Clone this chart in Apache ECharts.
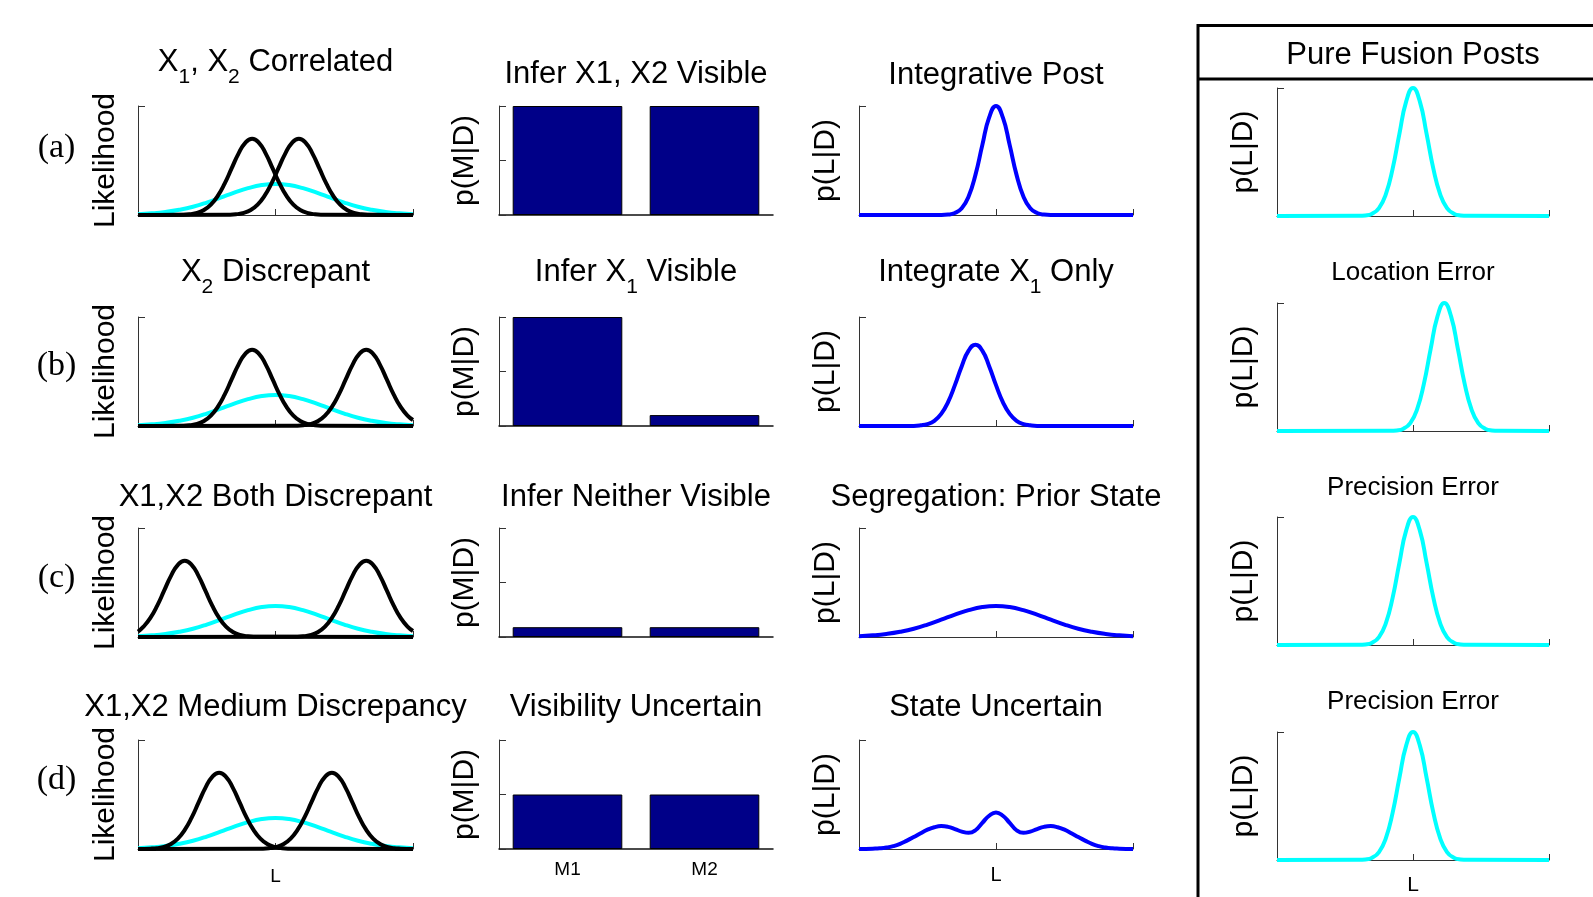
<!DOCTYPE html>
<html><head><meta charset="utf-8">
<script src="https://cdn.jsdelivr.net/npm/echarts@6/dist/echarts.min.js"></script>
<style>html,body{margin:0;padding:0;background:#fff}#chart{width:1593px;height:897px}</style>
</head><body><div id="chart"></div>
<script>
// ================= DATA =================
// Column 1: likelihoods (black) and prior (cyan), x in [-1,1], y in [0,1]
const likelihoodPrior = [[-1,0.007],[-0.9,0.015],[-0.8,0.028],[-0.7,0.048],[-0.6,0.076],[-0.5,0.114],[-0.4,0.159],[-0.3,0.205],[-0.2,0.246],[-0.1,0.275],[0,0.285],[0.1,0.275],[0.2,0.246],[0.3,0.205],[0.4,0.159],[0.5,0.114],[0.6,0.076],[0.7,0.048],[0.8,0.028],[0.9,0.015],[1,0.007]];
const likX1Near = [[-1,0],[-0.67,0.003],[-0.62,0.008],[-0.57,0.02],[-0.52,0.046],[-0.47,0.095],[-0.42,0.175],[-0.37,0.288],[-0.32,0.425],[-0.27,0.561],[-0.22,0.662],[-0.17,0.7],[-0.12,0.662],[-0.07,0.561],[-0.02,0.425],[0.03,0.288],[0.08,0.175],[0.13,0.095],[0.18,0.046],[0.23,0.02],[0.28,0.008],[0.33,0.003],[1,0]];
const likX2Near = [[-1,0],[-0.33,0.003],[-0.28,0.008],[-0.23,0.02],[-0.18,0.046],[-0.13,0.095],[-0.08,0.175],[-0.03,0.288],[0.02,0.425],[0.07,0.561],[0.12,0.662],[0.17,0.7],[0.22,0.662],[0.27,0.561],[0.32,0.425],[0.37,0.288],[0.42,0.175],[0.47,0.095],[0.52,0.046],[0.57,0.02],[0.62,0.008],[0.67,0.003],[1,0]];
const likX2Far = [[-1,0],[0.16,0.003],[0.21,0.008],[0.26,0.02],[0.31,0.046],[0.36,0.095],[0.41,0.175],[0.46,0.288],[0.51,0.425],[0.56,0.561],[0.61,0.662],[0.66,0.7],[0.71,0.662],[0.76,0.561],[0.81,0.425],[0.86,0.288],[0.91,0.175],[0.96,0.095],[1,0.055]];
const likX1Far = [[-1,0.05],[-0.96,0.095],[-0.91,0.175],[-0.86,0.288],[-0.81,0.425],[-0.76,0.561],[-0.71,0.662],[-0.66,0.7],[-0.61,0.662],[-0.56,0.561],[-0.51,0.425],[-0.46,0.288],[-0.41,0.175],[-0.36,0.095],[-0.31,0.046],[-0.26,0.02],[-0.21,0.008],[-0.16,0.003],[1,0]];
const likX1Mid = [[-1,0],[-0.91,0.003],[-0.86,0.008],[-0.81,0.02],[-0.76,0.046],[-0.71,0.095],[-0.66,0.175],[-0.61,0.288],[-0.56,0.425],[-0.51,0.561],[-0.46,0.662],[-0.41,0.7],[-0.36,0.662],[-0.31,0.561],[-0.26,0.425],[-0.21,0.288],[-0.16,0.175],[-0.11,0.095],[-0.06,0.046],[-0.01,0.02],[0.04,0.008],[0.09,0.003],[1,0]];
const likX2Mid = [[-1,0],[-0.09,0.003],[-0.04,0.008],[0.01,0.02],[0.06,0.046],[0.11,0.095],[0.16,0.175],[0.21,0.288],[0.26,0.425],[0.31,0.561],[0.36,0.662],[0.41,0.7],[0.46,0.662],[0.51,0.561],[0.56,0.425],[0.61,0.288],[0.66,0.175],[0.71,0.095],[0.76,0.046],[0.81,0.02],[0.86,0.008],[0.91,0.003],[1,0]];
const likelihoodX1Rows = [likX1Near, likX1Near, likX1Far, likX1Mid];
const likelihoodX2Rows = [likX2Near, likX2Far, likX2Far, likX2Mid];

// Column 2: visibility posteriors p(M|D)
const visibilityCats = ['M1', 'M2'];
const visibilityRows = [[1, 1], [1, 0.1], [0.09, 0.09], [0.5, 0.5]];

// Column 3: location posteriors p(L|D) (blue)
const postIntegrative = [[-1,0],[-0.4,0.001],[-0.35,0.004],[-0.3,0.018],[-0.25,0.062],[-0.2,0.169],[-0.15,0.368],[-0.1,0.641],[-0.05,0.895],[0,1],[0.05,0.895],[0.1,0.641],[0.15,0.368],[0.2,0.169],[0.25,0.062],[0.3,0.018],[0.35,0.004],[0.4,0.001],[1,0]];
const postX1Only = [[-1,0],[-0.6,0.001],[-0.55,0.006],[-0.5,0.018],[-0.45,0.048],[-0.4,0.111],[-0.35,0.22],[-0.3,0.375],[-0.25,0.549],[-0.2,0.691],[-0.15,0.745],[-0.1,0.691],[-0.05,0.549],[0,0.375],[0.05,0.22],[0.1,0.111],[0.15,0.048],[0.2,0.018],[0.25,0.006],[0.3,0.001],[1,0]];
const postPrior = likelihoodPrior;
const postStateUncertain = [[-1,0],[-0.95,0.001],[-0.9,0.003],[-0.85,0.006],[-0.8,0.013],[-0.75,0.026],[-0.7,0.047],[-0.65,0.077],[-0.6,0.11],[-0.55,0.145],[-0.5,0.177],[-0.45,0.2],[-0.4,0.21],[-0.35,0.203],[-0.3,0.183],[-0.25,0.16],[-0.2,0.148],[-0.15,0.172],[-0.1,0.24],[-0.05,0.305],[0,0.336],[0.05,0.305],[0.1,0.24],[0.15,0.172],[0.2,0.148],[0.25,0.16],[0.3,0.183],[0.35,0.203],[0.4,0.21],[0.45,0.2],[0.5,0.177],[0.55,0.145],[0.6,0.11],[0.65,0.077],[0.7,0.047],[0.75,0.026],[0.8,0.013],[0.85,0.006],[0.9,0.003],[0.95,0.001],[1,0]];
const posteriorRows = [postIntegrative, postX1Only, postPrior, postStateUncertain];

// Column 4: pure fusion posteriors (cyan)
const fusionCentered = postIntegrative;
const fusionShifted = [[-1,0],[-0.17,0.001],[-0.12,0.004],[-0.07,0.018],[-0.02,0.062],[0.03,0.169],[0.08,0.368],[0.13,0.641],[0.18,0.895],[0.23,1],[0.28,0.895],[0.33,0.641],[0.38,0.368],[0.43,0.169],[0.48,0.062],[0.53,0.018],[0.58,0.004],[0.63,0.001],[1,0]];
const fusionRows = [fusionCentered, fusionShifted, fusionCentered, fusionCentered];

// Text
const rowLetters = ['(a)', '(b)', '(c)', '(d)'];
const titlesCol1 = ['X_1, X_2 Correlated', 'X_2 Discrepant', 'X1,X2 Both Discrepant', 'X1,X2 Medium Discrepancy'];
const titlesCol2 = ['Infer X1, X2 Visible', 'Infer X_1 Visible', 'Infer Neither Visible', 'Visibility Uncertain'];
const titlesCol3 = ['Integrative Post', 'Integrate X_1 Only', 'Segregation: Prior State', 'State Uncertain'];
const titlesCol4 = ['', 'Location Error', 'Precision Error', 'Precision Error'];
const boxHeader = 'Pure Fusion Posts';
const yNames = ['Likelihood', 'p(M|D)', 'p(L|D)', 'p(L|D)'];
const xCenterLabel = 'L';

// ================= LAYOUT / STYLE =================
const FONT = "'Liberation Sans', Arial, Helvetica, sans-serif";
const SERIF = "'Liberation Serif', 'Times New Roman', serif";
const AX = '#333';
const CYAN = '#00FFFF', BLUE = '#0000FF', BLACK = '#000000', NAVY = '#000088';
const colLeft = [138, 499, 859, 1277];
const colWidth = [275, 274, 274, 272];
const rowTop = [106, 317, 528, 740];
const rowHeight = 109;
const rightTop = [88, 303, 517, 732];
const rightHeight = 128;
const titleCenterY = [[62.5, 74.5, 75], [272.5, 272.5, 272.5], [497, 497, 497], [707.5, 707.5, 707.5]];
const rightTitleCenterY = [0, 273, 488, 701.7];
const letterY = [148, 366, 578, 780];
const nameGaps = [17, 19, 18, 18];

const grids = [], xAxes = [], yAxes = [], series = [], titles = [];
function addGrid(left, top, width, height) {
  grids.push({left, top, width, height, containLabel: false, outerBoundsMode: 'none', show: false});
  return grids.length - 1;
}
function curveXAxis(g, showLabel, fontSize, margin) {
  return {type: 'value', gridIndex: g, min: -1, max: 1, interval: 1,
    axisLine: {show: true, onZero: false, lineStyle: {color: AX, width: 1}},
    axisTick: {show: true, inside: true, length: 6, lineStyle: {color: AX, width: 1}},
    axisLabel: {show: showLabel, formatter: v => (v === 0 ? xCenterLabel : ''), fontSize, margin, color: '#000', fontFamily: FONT, showMinLabel: true, showMaxLabel: true},
    splitLine: {show: false}};
}
function valueYAxis(g, interval, name, gap) {
  return {type: 'value', gridIndex: g, min: 0, max: 1, interval,
    axisLine: {show: true, onZero: false, lineStyle: {color: AX, width: 1}},
    axisTick: {show: true, inside: true, length: 7, lineStyle: {color: AX, width: 1}},
    axisLabel: {show: false}, splitLine: {show: false},
    name, nameLocation: 'middle', nameRotate: 90, nameGap: gap,
    nameTextStyle: {fontSize: 30, color: '#000', fontFamily: FONT}};
}
function lineSeries(g, data, color, z) {
  return {type: 'line', xAxisIndex: g, yAxisIndex: g, data, smooth: true, symbol: 'none', clip: false, z,
    lineStyle: {color, width: 4}, emphasis: {disabled: true}};
}
function richTitle(t) { return '{n|' + t.replace(/_(\d)/g, '}{s|$1}{n|') + '}'; }
function addTitle(text, cx, centerY, size) {
  const sub = Math.round(size * 0.68);
  titles.push({text: richTitle(text), left: cx, top: centerY - size / 2, textAlign: 'center', textVerticalAlign: 'top', padding: 0,
    textStyle: {fontSize: size, fontWeight: 'normal', color: '#000', fontFamily: FONT,
      rich: {n: {fontSize: size, lineHeight: size, fontFamily: FONT, color: '#000', verticalAlign: 'top'},
             s: {fontSize: sub, fontFamily: FONT, color: '#000', verticalAlign: 'top', padding: [Math.round(size * 0.66), 0, 0, 0]}}}});
}

for (let r = 0; r < 4; r++) {
  // Column 1: likelihoods
  let g = addGrid(colLeft[0], rowTop[r], colWidth[0], rowHeight);
  xAxes.push(curveXAxis(g, r === 3, 19, 18));
  yAxes.push(valueYAxis(g, 1, yNames[0], nameGaps[0]));
  series.push(lineSeries(g, likelihoodPrior, CYAN, 2));
  series.push(lineSeries(g, likelihoodX1Rows[r], BLACK, 3));
  series.push(lineSeries(g, likelihoodX2Rows[r], BLACK, 3));
  addTitle(titlesCol1[r], colLeft[0] + colWidth[0] / 2, titleCenterY[r][0], 31);

  // Column 2: bars
  g = addGrid(colLeft[1], rowTop[r], colWidth[1], rowHeight);
  xAxes.push({type: 'category', gridIndex: g, data: visibilityCats, boundaryGap: true,
    axisLine: {show: true, onZero: false, lineStyle: {color: '#111', width: 1.5}},
    axisTick: {show: false},
    axisLabel: {show: r === 3, fontSize: 19, margin: 11, color: '#000', fontFamily: FONT}});
  yAxes.push(valueYAxis(g, 0.5, yNames[1], nameGaps[1]));
  series.push({type: 'bar', xAxisIndex: g, yAxisIndex: g, data: visibilityRows[r], barWidth: '80%',
    itemStyle: {color: NAVY, borderColor: '#000', borderWidth: 1}, emphasis: {disabled: true}});
  addTitle(titlesCol2[r], colLeft[1] + colWidth[1] / 2, titleCenterY[r][1], 31);

  // Column 3: location posteriors
  g = addGrid(colLeft[2], rowTop[r], colWidth[2], rowHeight);
  xAxes.push(curveXAxis(g, r === 3, 20, 16));
  yAxes.push(valueYAxis(g, 1, yNames[2], nameGaps[2]));
  series.push(lineSeries(g, posteriorRows[r], BLUE, 3));
  addTitle(titlesCol3[r], colLeft[2] + colWidth[2] / 2, titleCenterY[r][2], 31);

  // Column 4: pure fusion posteriors
  g = addGrid(colLeft[3], rightTop[r], colWidth[3], rightHeight);
  xAxes.push(curveXAxis(g, r === 3, 21, 15));
  yAxes.push(valueYAxis(g, 1, yNames[3], nameGaps[3]));
  series.push(lineSeries(g, fusionRows[r], CYAN, 3));
  if (titlesCol4[r]) addTitle(titlesCol4[r], colLeft[3] + colWidth[3] / 2, rightTitleCenterY[r], 26);
}
addTitle(boxHeader, colLeft[3] + colWidth[3] / 2, 55, 31);

const graphic = [
  {type: 'polyline', shape: {points: [[1198, 900], [1198, 25.5], [1600, 25.5]]}, style: {stroke: '#000', lineWidth: 3, fill: null}},
  {type: 'line', shape: {x1: 1198, y1: 79, x2: 1600, y2: 79}, style: {stroke: '#000', lineWidth: 3}}
];
rowLetters.forEach((t, i) => graphic.push({type: 'text', x: 56.5, y: letterY[i],
  style: {text: t, font: '34px ' + SERIF, fill: '#000', align: 'center', verticalAlign: 'middle'}}));

const chart = echarts.init(document.getElementById('chart'), null, {renderer: 'canvas'});
chart.setOption({animation: false, backgroundColor: '#fff', title: titles, grid: grids, xAxis: xAxes, yAxis: yAxes, series, graphic, tooltip: {show: false}});
</script></body></html>
